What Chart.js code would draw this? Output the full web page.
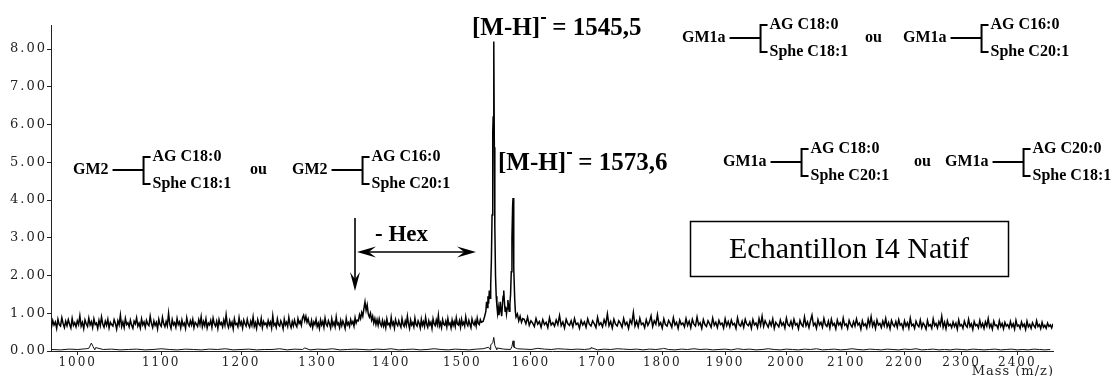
<!DOCTYPE html>
<html>
<head>
<meta charset="utf-8">
<script src="https://cdn.jsdelivr.net/npm/chart.js@4.4.1/dist/chart.umd.min.js"></script>
<style>
  html, body { margin: 0; padding: 0; background: #ffffff; }
  canvas { display: block; }
</style>
</head>
<body>
<canvas id="spectrum" width="1113" height="376"></canvas>
<script>
// ---- Spectrum data (m/z vs relative intensity) ----
// Upper trace, low-mass side: sampled every 1.5 m/z from 968
const mzLeftStart = 968;
const mzLeftStep = 1.5;
const intensityLeft = [
  0.72,0.63,0.81,0.69,0.77,0.60,0.84,0.70,0.66,0.88,0.73,0.62,0.79,0.67,0.83,0.71,0.61,0.86,0.68,0.75,
  0.64,0.80,0.70,0.93,0.66,0.76,0.59,0.82,0.72,0.65,0.87,0.69,0.78,0.62,0.85,0.70,0.74,0.60,0.81,0.67,
  0.90,0.71,0.63,0.79,0.68,0.84,0.61,0.76,0.70,0.66,0.83,0.73,0.58,0.80,0.69,0.95,0.65,0.77,0.62,0.86,
  0.70,0.75,0.64,0.82,0.68,0.60,0.79,0.72,0.88,0.66,0.74,0.61,0.85,0.69,0.77,0.63,0.81,0.71,0.67,0.92,
  0.73,0.62,0.80,0.68,0.76,0.59,0.84,0.70,0.65,0.89,0.72,0.64,0.78,0.67,1.00,0.71,0.60,0.83,0.69,0.75,
  0.63,0.86,0.70,0.77,0.61,0.82,0.68,0.74,0.60,0.88,0.72,0.66,0.80,0.69,0.84,0.62,0.76,0.71,0.65,0.83,
  0.70,0.91,0.64,0.78,0.67,0.85,0.61,0.74,0.69,0.81,0.63,0.87,0.72,0.66,0.79,0.60,0.83,0.70,0.75,0.64,
  0.82,0.68,0.96,0.71,0.62,0.80,0.67,0.76,0.59,0.85,0.70,0.73,0.64,0.88,0.69,0.77,0.61,0.82,0.72,0.66,
  0.84,0.70,0.63,0.79,0.68,0.90,0.65,0.75,0.60,0.83,0.71,0.67,0.86,0.62,0.78,0.70,0.74,0.64,0.81,0.69,
  0.77,0.61,0.93,0.68,0.73,0.63,0.85,0.70,0.66,0.80,0.72,0.59,0.84,0.69,0.76,0.65,0.89,0.71,0.62,0.78,
  0.67,0.82,0.70,0.64,0.86,0.73,0.79,0.68,0.88,0.95,0.80,0.92,0.76,0.85,0.71,0.66,0.81,0.62,0.77,0.70,
  0.84,0.65,0.74,0.60,0.82,0.69,0.78,0.63,0.87,0.71,0.66,0.80,0.72,0.61,0.85,0.68,0.76,0.64,0.90,0.70,
  0.74,0.62,0.81,0.67,0.79,0.71,0.60,0.86,0.69,0.75,0.65,0.83,0.72,0.78,0.66,0.88,0.74,0.82,0.80,0.96,
  0.86,1.02,0.92,1.12,1.30,1.08,1.22,0.98,0.90,1.00,0.82,0.92,0.74,0.86,0.70,0.83,0.68,0.85,0.72,0.66,
  0.81,0.66,0.77,0.62,0.85,0.70,0.73,0.64,0.89,0.69,0.76,0.61,0.83,0.72,0.67,0.80,0.70,0.63,0.86,0.71,
  0.65,0.79,0.68,0.92,0.72,0.60,0.82,0.69,0.75,0.64,0.87,0.70,0.66,0.80,0.73,0.61,0.84,0.68,0.77,0.65,
  0.89,0.71,0.63,0.80,0.69,0.76,0.60,0.85,0.72,0.67,0.82,0.70,0.94,0.66,0.75,0.62,0.83,0.71,0.68,0.79,
  0.64,0.86,0.70,0.74,0.61,0.82,0.68,0.78,0.65,0.88,0.72,0.69,0.80,0.63,0.84,0.70,0.76,0.66,0.90,0.73,
  0.67,0.81,0.71,0.62,0.85,0.74,0.69,0.79,0.66,0.87,0.73,0.70,0.83,0.76
];

// Upper trace, molecular-ion cluster
const clusterMz = [
  1530,1532,1534,1535,1536,1537,1538,1539,1540,1541,
  1542,1543,1544,1544.6,1545.5,1546.3,1547,1548,1549,1550,
  1551,1552,1553,1554,1555,1556,1557,1558,1559,1560,
  1561,1562,1563,1564,1565,1566,1567,1568,1569,1570,
  1571,1572,1573,1573.6,1574.3,1575,1576,1577,1578,1580,
  1582,1584,1586,1588
];
const clusterIntensity = [
  0.78,0.90,1.05,1.30,1.15,1.45,1.25,1.60,1.40,1.75,
  2.40,3.60,5.80,6.20,8.20,5.40,3.30,2.00,1.45,1.20,
  1.00,1.15,0.95,1.10,1.30,1.05,0.92,1.20,1.45,1.60,
  1.30,1.05,1.18,0.98,1.12,1.35,1.20,1.05,1.25,1.50,
  2.10,3.00,3.85,4.05,3.40,2.20,1.40,1.05,0.90,0.98,
  0.80,0.92,0.76,0.86
];

// Upper trace, high-mass side: sampled every 2.5 m/z from 1590
const mzRightStart = 1590;
const mzRightStep = 2.5;
const intensityRight = [
  0.84,0.72,0.90,0.68,0.80,0.74,0.65,0.86,0.71,0.78,0.63,0.83,0.70,0.76,0.62,0.88,0.69,0.75,0.66,0.82,
  0.70,0.94,0.67,0.77,0.61,0.84,0.72,0.68,0.80,0.64,0.86,0.70,0.74,0.60,0.81,0.69,0.77,0.63,0.85,0.71,
  0.66,0.80,0.72,0.62,0.89,0.69,0.75,0.64,0.83,0.70,0.98,0.67,0.78,0.61,0.84,0.71,0.66,0.80,0.73,0.63,
  0.86,0.69,0.76,0.60,0.82,0.72,1.02,0.66,0.79,0.64,0.87,0.70,0.74,0.62,0.83,0.68,0.77,0.93,0.65,0.80,
  0.71,0.96,0.68,0.75,0.61,0.85,0.70,0.66,0.81,0.73,0.63,0.88,0.69,0.76,0.60,0.82,0.70,0.74,0.64,0.86,
  0.68,0.79,0.62,0.84,0.71,0.66,0.90,0.69,0.75,0.60,0.83,0.70,0.65,0.80,0.72,0.63,0.87,0.68,0.76,0.62,
  0.81,0.70,0.74,0.61,0.85,0.67,0.78,0.64,0.82,0.69,0.73,0.60,0.88,0.70,0.66,0.79,0.63,0.84,0.71,0.67,
  0.77,0.60,0.83,0.69,0.74,0.62,0.86,0.68,0.92,0.65,0.80,0.71,0.63,0.78,0.67,0.85,0.60,0.76,0.70,0.64,
  0.82,0.68,0.75,0.61,0.87,0.70,0.66,0.79,0.63,0.84,0.69,0.73,0.59,0.81,0.70,0.65,0.90,0.67,0.77,0.62,
  0.80,0.95,0.68,0.74,0.60,0.83,0.69,0.76,0.63,0.86,0.70,0.65,0.79,0.61,0.84,0.68,0.73,0.59,0.82,0.69,
  0.75,0.62,0.87,0.68,0.72,0.60,0.81,0.70,0.64,0.78,0.66,0.85,0.69,0.74,0.58,0.80,0.67,0.72,0.61,0.84,
  0.68,0.91,0.66,0.77,0.60,0.82,0.69,0.73,0.62,0.79,0.67,0.86,0.64,0.75,0.59,0.81,0.70,0.65,0.78,0.63,
  0.83,0.68,0.72,0.59,0.80,0.66,0.75,0.61,0.87,0.67,0.71,0.60,0.79,0.69,0.64,0.82,0.62,0.74,0.68,0.58,
  0.81,0.66,0.70,0.60,0.85,0.67,0.73,0.61,0.78,0.68,0.92,0.63,0.76,0.59,0.80,0.67,0.71,0.62,0.77,0.65,
  0.74,0.58,0.82,0.66,0.70,0.60,0.79,0.68,0.63,0.84,0.65,0.72,0.57,0.78,0.67,0.70,0.61,0.81,0.64,0.73,
  0.60,0.77,0.66,0.86,0.63,0.71,0.58,0.79,0.67,0.69,0.60,0.80,0.65,0.73,0.59,0.76,0.66,0.70,0.61,0.78,
  0.64,0.72,0.58,0.81,0.66,0.69,0.60,0.77,0.65,0.71,0.57,0.79,0.64,0.70,0.60,0.75,0.67,0.62,0.80,0.65,
  0.70,0.59,0.76,0.63,0.68,0.60,0.74,0.65,0.69,0.61,0.72
];

// Lower trace: baseline every 10 m/z from 970, plus its small peaks
const lowerStart = 970;
const lowerStep = 10;
const intensityLower = [
  0.04,0.03,0.05,0.04,0.06,0.03,0.04,0.05,0.03,0.04,
  0.05,0.03,0.04,0.06,0.04,0.03,0.05,0.04,0.03,0.05,
  0.04,0.06,0.03,0.04,0.05,0.03,0.04,0.04,0.06,0.03,
  0.05,0.04,0.03,0.05,0.04,0.06,0.03,0.04,0.05,0.04,
  0.03,0.05,0.04,0.06,0.03,0.04,0.05,0.03,0.04,0.06,
  0.04,0.03,0.05,0.04,0.03,0.05,0.06,0.04,0.03,0.05,
  0.04,0.06,0.05,0.04,0.07,0.05,0.04,0.06,0.05,0.04,
  0.05,0.04,0.06,0.03,0.05,0.04,0.06,0.05,0.04,0.05,
  0.03,0.05,0.04,0.06,0.04,0.03,0.05,0.04,0.06,0.04,
  0.05,0.03,0.04,0.05,0.03,0.06,0.04,0.05,0.03,0.04,
  0.06,0.04,0.03,0.05,0.04,0.03,0.05,0.04,0.06,0.03,
  0.04,0.05,0.03,0.04,0.06,0.04,0.03,0.05,0.04,0.03,
  0.05,0.04,0.03,0.05,0.04,0.06,0.03,0.04,0.05,0.03,
  0.04,0.03,0.05,0.04,0.03,0.05,0.04,0.03,0.04,0.05,
  0.03,0.04,0.05,0.03,0.04,0.03,0.05,0.04,0.03,0.04
];
const lowerPeakMz = [1013,1016,1018,1021,1283,1538,1541,1544,1545.5,1547,1550,1572,1573.6,1575,1690,1802];
const lowerPeakIntensity = [0.07,0.21,0.12,0.09,0.08,0.10,0.16,0.22,0.36,0.15,0.08,0.12,0.27,0.10,0.09,0.07];

// Axis ticks and annotated peaks
const xTicks = [1000,1100,1200,1300,1400,1500,1600,1700,1800,1900,2000,2100,2200,2300,2400];
const yTicks = [0,1,2,3,4,5,6,7,8];
const labelledPeaks = [1545.5, 1573.6];

// ---- Assemble datasets ----
const upperTrace = []
  .concat(intensityLeft.map((v, i) => ({ x: mzLeftStart + i * mzLeftStep, y: v })))
  .concat(clusterMz.map((m, i) => ({ x: m, y: clusterIntensity[i] })))
  .concat(intensityRight.map((v, i) => ({ x: mzRightStart + i * mzRightStep, y: v })));

const lowerTrace = intensityLower.map((v, i) => ({ x: lowerStart + i * lowerStep, y: v }))
  .concat(lowerPeakMz.map((m, i) => ({ x: m, y: lowerPeakIntensity[i] })))
  .sort((a, b) => a.x - b.x);

// ---- Time-of-flight style mass axis: linear in sqrt(m/z) ----
class SqrtMassScale extends Chart.LinearScale {
  configure() {
    super.configure();
    this._sMin = Math.sqrt(this.min);
    this._sRange = Math.sqrt(this.max) - this._sMin;
  }
  getPixelForValue(value) {
    if (value === null || value === undefined || isNaN(value)) return NaN;
    return this.getPixelForDecimal((Math.sqrt(value) - this._sMin) / this._sRange);
  }
  getValueForPixel(pixel) {
    const s = this._sMin + this.getDecimalForPixel(pixel) * this._sRange;
    return s * s;
  }
}
SqrtMassScale.id = 'sqrtMass';
SqrtMassScale.defaults = {};
Chart.register(SqrtMassScale);

// Wide spacing for the instrument-style tick digits only
const tickLetterSpacing = {
  id: 'tickLetterSpacing',
  beforeDraw(chart) { chart.ctx.letterSpacing = '2px'; },
  beforeDatasetsDraw(chart) { chart.ctx.letterSpacing = '0px'; }
};

const SERIF = '"Liberation Serif", "Times New Roman", serif';

function arrowHead(ctx, tipX, tipY, dx, dy, len, half) {
  const px = -dy, py = dx;
  const bx = tipX - dx * len, by = tipY - dy * len;
  const cx = tipX - dx * len * 0.62, cy = tipY - dy * len * 0.62;
  ctx.beginPath();
  ctx.moveTo(tipX, tipY);
  ctx.lineTo(bx + px * half, by + py * half);
  ctx.lineTo(cx, cy);
  ctx.lineTo(bx - px * half, by - py * half);
  ctx.closePath();
  ctx.fill();
}

function ionLabel(ctx, x, base, mass) {
  ctx.font = 'bold 25px ' + SERIF;
  ctx.textAlign = 'left';
  ctx.textBaseline = 'alphabetic';
  ctx.fillText('[M-H]', x, base);
  const w = ctx.measureText('[M-H]').width;
  ctx.fillRect(x + w + 1, base - 18, 5, 2);
  ctx.fillText(' = ' + String(mass).replace('.', ','), x + w + 6, base);
}

function lipidGroup(ctx, x, yc, name, topText, bottomText) {
  ctx.font = 'bold 16px ' + SERIF;
  ctx.textAlign = 'left';
  ctx.textBaseline = 'middle';
  ctx.fillText(name, x, yc);
  const w = ctx.measureText(name).width;
  const x0 = x + w + 4;
  const bx = x0 + 31;
  const yTop = yc - 13, yBot = yc + 14;
  ctx.lineWidth = 2;
  ctx.beginPath();
  ctx.moveTo(x0, yc); ctx.lineTo(bx, yc);
  ctx.moveTo(bx + 7, yTop); ctx.lineTo(bx, yTop); ctx.lineTo(bx, yBot); ctx.lineTo(bx + 7, yBot);
  ctx.stroke();
  ctx.fillText(topText, bx + 9, yTop);
  ctx.fillText(bottomText, bx + 9, yBot);
}

function word(ctx, text, x, yc) {
  ctx.font = 'bold 16px ' + SERIF;
  ctx.textAlign = 'left';
  ctx.textBaseline = 'middle';
  ctx.fillText(text, x, yc);
}

const annotations = {
  id: 'annotations',
  afterDraw(chart) {
    const ctx = chart.ctx;
    ctx.save();
    ctx.letterSpacing = '0px';
    ctx.fillStyle = '#000';
    ctx.strokeStyle = '#000';

    // Pseudo-molecular ions
    ionLabel(ctx, 472, 35, labelledPeaks[0]);
    ionLabel(ctx, 498, 170, labelledPeaks[1]);

    // Ceramide compositions
    lipidGroup(ctx, 682, 38, 'GM1a', 'AG C18:0', 'Sphe C18:1');
    word(ctx, 'ou', 865, 38);
    lipidGroup(ctx, 903, 38, 'GM1a', 'AG C16:0', 'Sphe C20:1');

    lipidGroup(ctx, 723, 162, 'GM1a', 'AG C18:0', 'Sphe C20:1');
    word(ctx, 'ou', 914, 162);
    lipidGroup(ctx, 945, 162, 'GM1a', 'AG C20:0', 'Sphe C18:1');

    lipidGroup(ctx, 73, 170, 'GM2', 'AG C18:0', 'Sphe C18:1');
    word(ctx, 'ou', 250, 170);
    lipidGroup(ctx, 292, 170, 'GM2', 'AG C16:0', 'Sphe C20:1');

    // Loss of a hexose
    ctx.font = 'bold 23px ' + SERIF;
    ctx.textBaseline = 'alphabetic';
    ctx.fillText('- Hex', 375, 241);
    ctx.lineWidth = 1.6;
    ctx.beginPath();
    ctx.moveTo(355, 218); ctx.lineTo(355, 280);
    ctx.moveTo(362, 252); ctx.lineTo(470, 252);
    ctx.stroke();
    arrowHead(ctx, 355, 291, 0, 1, 19, 5);
    arrowHead(ctx, 357, 252, -1, 0, 19, 5.5);
    arrowHead(ctx, 476, 252, 1, 0, 19, 5.5);

    // Sample caption
    ctx.lineWidth = 1.5;
    ctx.strokeRect(690.5, 221.5, 318, 55);
    ctx.font = '30px ' + SERIF;
    ctx.textAlign = 'center';
    ctx.textBaseline = 'middle';
    ctx.fillText('Echantillon I4 Natif', 849, 250);

    // Mass axis title
    ctx.letterSpacing = '1px';
    ctx.font = '13px "DejaVu Serif", serif';
    ctx.textAlign = 'right';
    ctx.textBaseline = 'alphabetic';
    ctx.fillStyle = '#222';
    ctx.fillText('Mass (m/z)', 1054, 375);
    ctx.restore();
  }
};

new Chart(document.getElementById('spectrum'), {
  type: 'line',
  data: {
    datasets: [
      { data: lowerTrace, borderColor: '#111', borderWidth: 1, pointRadius: 0, tension: 0, fill: false },
      { data: upperTrace, borderColor: '#000000', borderWidth: 1.5, pointRadius: 0, tension: 0, fill: false }
    ]
  },
  options: {
    responsive: false,
    animation: false,
    devicePixelRatio: 1,
    events: [],
    layout: { padding: { left: 0, top: 25, right: 60, bottom: 0 } },
    plugins: { legend: { display: false }, tooltip: { enabled: false } },
    scales: {
      x: {
        type: 'sqrtMass',
        min: 969,
        max: 2465,
        afterBuildTicks: (scale) => { scale.ticks = xTicks.map(v => ({ value: v })); },
        afterFit: (scale) => { scale.height = 25; },
        ticks: {
          autoSkip: false,
          maxRotation: 0,
          padding: 1,
          color: '#222',
          font: { family: '"DejaVu Serif", serif', size: 12 },
          callback: (v) => String(v)
        },
        grid: { drawOnChartArea: false, tickLength: 4, color: '#222', tickWidth: 1 },
        border: { display: true, color: '#222', width: 1 }
      },
      y: {
        type: 'linear',
        min: 0,
        max: 8.636,
        afterBuildTicks: (scale) => { scale.ticks = yTicks.map(v => ({ value: v })); },
        afterFit: (scale) => { scale.width = 51; },
        ticks: {
          padding: 0,
          color: '#222',
          font: { family: '"DejaVu Serif", serif', size: 13 },
          callback: (v) => Number(v).toFixed(2)
        },
        grid: { drawOnChartArea: false, tickLength: 4, color: '#222', tickWidth: 1 },
        border: { display: true, color: '#222', width: 1 }
      }
    }
  },
  plugins: [tickLetterSpacing, annotations]
});
</script>
</body>
</html>
